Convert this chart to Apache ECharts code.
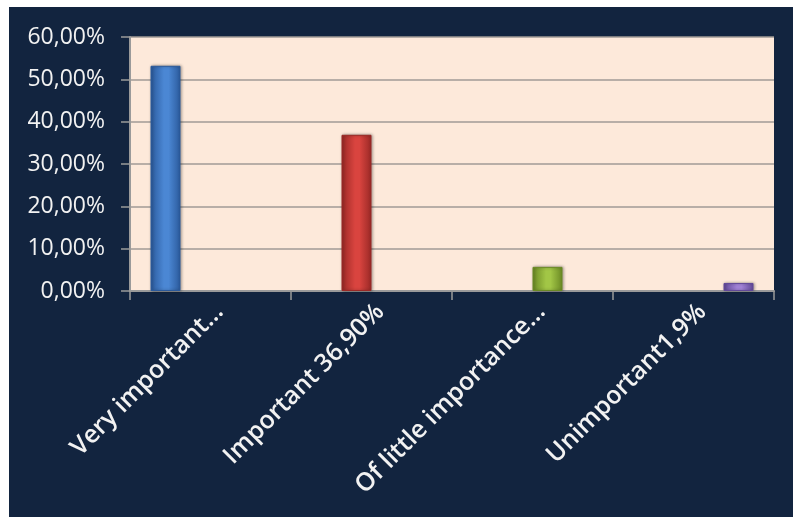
<!DOCTYPE html>
<html>
<head>
<meta charset="utf-8">
<script src="https://cdn.jsdelivr.net/npm/echarts@6/dist/echarts.min.js"></script>
<style>
  html, body { margin: 0; padding: 0; background: #ffffff; }
  #frame { position: absolute; left: 9px; top: 7px; width: 784px; height: 510px; background: #12243f; }
  #chart { position: absolute; left: 0; top: 0; width: 793px; height: 518px; }
</style>
</head>
<body>
<div id="frame"></div>
<div id="chart"></div>
<script>
// Survey answers: share of respondents per importance rating
const categories = ['Very important…', 'Important 36,90%', 'Of little importance…', 'Unimportant1,9%'];
const shares = [0.532, 0.369, 0.057, 0.019];
const yTicks = { min: 0, max: 0.6, interval: 0.1 };

// bar colours: [edge, centre]
const palette = [
  ['#2b5a9c', '#4b87d4'],
  ['#9a2926', '#d9443f'],
  ['#6b8a24', '#a2c646'],
  ['#62499a', '#a283d8']
];

const fmtPct = v => (v * 100).toFixed(2).replace('.', ',') + '%';

function barGradient(c) {
  return new echarts.graphic.LinearGradient(0, 0, 1, 0, [
    { offset: 0, color: c[0] },
    { offset: 0.45, color: c[1] },
    { offset: 0.6, color: c[1] },
    { offset: 1, color: c[0] }
  ]);
}

// one series per category so every bar sits in its own slot of the group
const series = categories.map((name, i) => ({
  name: name,
  type: 'bar',
  barWidth: 30,
  barGap: '0%',
  data: categories.map((_, j) => (j === i ? shares[i] : '-')),
  itemStyle: {
    color: barGradient(palette[i]),
    borderColor: palette[i][0],
    borderWidth: 1,
    shadowColor: 'rgba(0,0,0,0.35)',
    shadowBlur: 3,
    shadowOffsetX: 1,
    shadowOffsetY: 0
  }
}));

const chart = echarts.init(document.getElementById('chart'), null, { renderer: 'canvas' });
chart.setOption({
  animation: false,
  backgroundColor: 'transparent',
  grid: {
    left: 130, top: 37, right: 19, bottom: 227,
    show: true, backgroundColor: '#fde9da', borderWidth: 0
  },
  xAxis: {
    type: 'category',
    data: categories,
    axisLine: { lineStyle: { color: '#9a9a9a', width: 2 } },
    axisTick: { show: true, length: 9, lineStyle: { color: '#9a9a9a', width: 1.5 } },
    axisLabel: {
      rotate: 45,
      interval: 0,
      margin: 8,
      verticalAlign: 'top',
      color: '#f2f2f2',
      fontFamily: 'Open Sans',
      fontWeight: 600,
      fontSize: 25
    },
    splitLine: { show: false }
  },
  yAxis: {
    type: 'value',
    min: yTicks.min, max: yTicks.max, interval: yTicks.interval,
    axisLine: { show: true, lineStyle: { color: '#9a9a9a', width: 2 } },
    axisTick: { show: true, length: 9, lineStyle: { color: '#9a9a9a', width: 1.5 } },
    axisLabel: {
      formatter: fmtPct,
      margin: 25,
      color: '#f2f2f2',
      fontFamily: 'Open Sans',
      fontSize: 23
    },
    splitLine: { lineStyle: { color: '#a09a96', width: 1.5 } }
  },
  series: series
});
</script>
</body>
</html>
